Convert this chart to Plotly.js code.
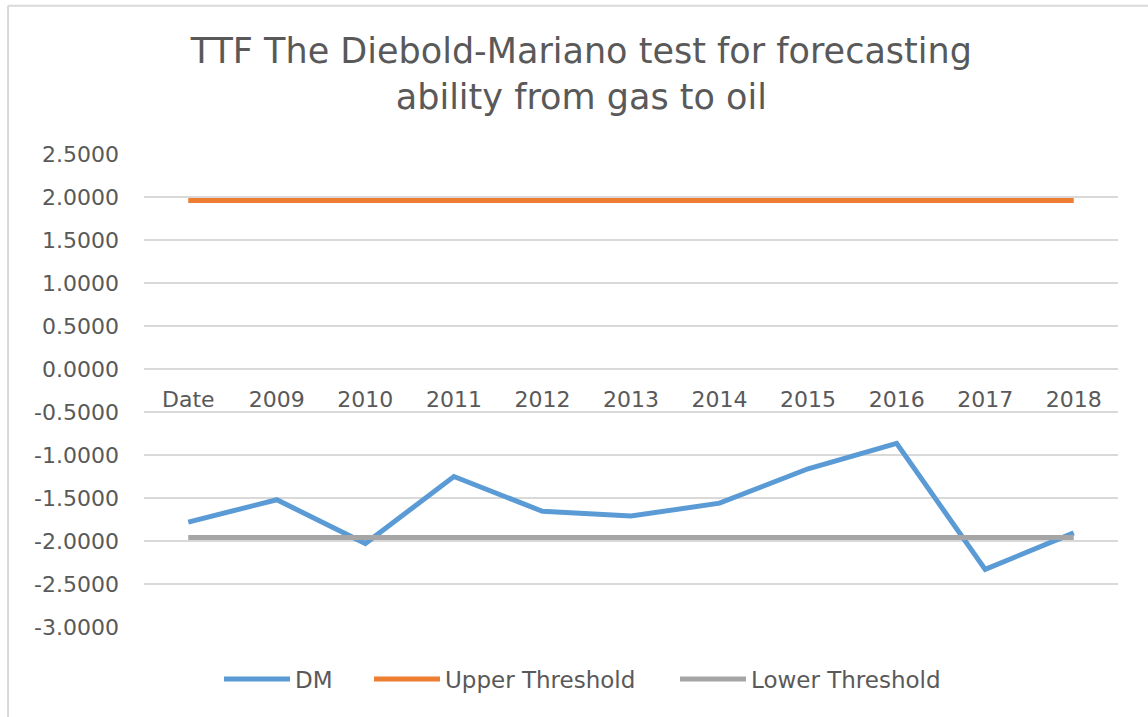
<!DOCTYPE html>
<html>
<head>
<meta charset="utf-8">
<script src="https://cdn.plot.ly/plotly-3.0.1.min.js"></script>
<style>html,body{margin:0;padding:0;background:#fff;}#chart{width:1148px;height:717px;}</style>
</head>
<body>
<div id="chart"></div>
<script>
var categories = ["Date","2009","2010","2011","2012","2013","2014","2015","2016","2017","2018"];
var dmValues = [-1.78,-1.52,-2.03,-1.25,-1.655,-1.71,-1.56,-1.16,-0.865,-2.33,-1.905];
var upperValues = [1.96,1.96,1.96,1.96,1.96,1.96,1.96,1.96,1.96,1.96,1.96];
var lowerValues = [-1.96,-1.96,-1.96,-1.96,-1.96,-1.96,-1.96,-1.96,-1.96,-1.96,-1.96];
var yTickVals = [2.5,2.0,1.5,1.0,0.5,0.0,-0.5,-1.0,-1.5,-2.0,-2.5,-3.0];
var yTickText = yTickVals.map(function(v){return v.toFixed(4);});
var seriesNames = ["DM","Upper Threshold","Lower Threshold"];

var textColor = "#595959";
var font = "DejaVu Sans, Open Sans, sans-serif";

var traces = [
  {x: categories, y: dmValues, name: seriesNames[0], type: "scatter", mode: "lines",
   line: {color: "#5B9BD5", width: 5}, legend: "legend"},
  {x: categories, y: upperValues, name: seriesNames[1], type: "scatter", mode: "lines",
   line: {color: "#ED7D31", width: 5}, legend: "legend2"},
  {x: categories, y: lowerValues, name: seriesNames[2], type: "scatter", mode: "lines",
   line: {color: "#A5A5A5", width: 5}, legend: "legend3"}
];

function legendAt(xpx) {
  return {
    orientation: "h", x: (xpx - 144) / 974, xanchor: "left", y: -0.11, yanchor: "middle",
    font: {family: font, size: 23, color: textColor},
    itemwidth: 66, bgcolor: "rgba(0,0,0,0)"
  };
}

var layout = {
  width: 1148, height: 717,
  paper_bgcolor: "#ffffff", plot_bgcolor: "#ffffff",
  margin: {l: 144, r: 30, t: 153.5, b: 90},
  font: {family: font, color: textColor},
  title: {
    text: "TTF The Diebold-Mariano test for forecasting<br>ability from gas to oil",
    font: {family: font, size: 35, color: textColor},
    x: 0.449, xanchor: "center", xref: "paper",
    y: 0.912, yanchor: "top", yref: "container"
  },
  xaxis: {
    type: "category",
    anchor: "free", position: 3/5.5,
    showgrid: false, zeroline: false, showline: false,
    ticks: "", ticklabelstandoff: 15,
    tickfont: {family: font, size: 22, color: textColor},
    range: [-0.5, 10.5], fixedrange: true
  },
  yaxis: {
    range: [-3, 2.5],
    tickvals: yTickVals, ticktext: yTickText,
    showgrid: true, gridcolor: "#d9d9d9", gridwidth: 2,
    zeroline: false, showline: false, ticks: "",
    ticklabelstandoff: 24,
    tickfont: {family: font, size: 22, color: textColor},
    fixedrange: true
  },
  showlegend: true,
  legend: legendAt(219),
  legend2: legendAt(369),
  legend3: legendAt(675),
  shapes: [
    {type: "line", xref: "paper", yref: "paper", x0: -0.1396, x1: 1.1, y0: 1.3136, y1: 1.3136,
     line: {color: "#d9d9d9", width: 2}},
    {type: "line", xref: "paper", yref: "paper", x0: -0.1396, x1: -0.1396, y0: -0.3, y1: 1.3136,
     line: {color: "#d9d9d9", width: 2}}
  ]
};

Plotly.newPlot("chart", traces, layout, {displayModeBar: false, staticPlot: true});
</script>
</body>
</html>
